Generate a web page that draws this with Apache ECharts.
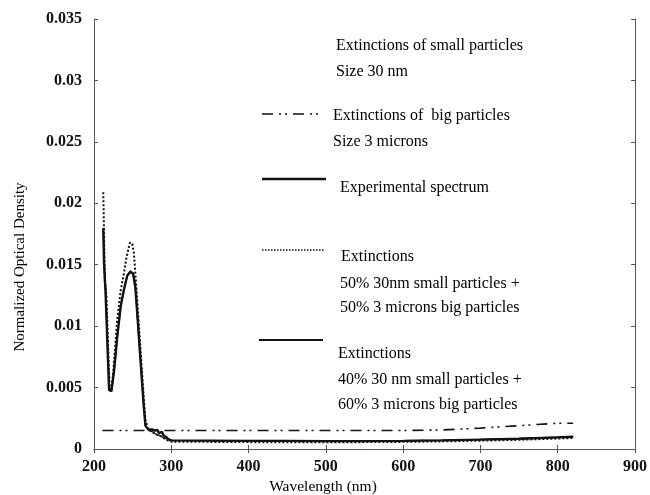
<!DOCTYPE html>
<html>
<head>
<meta charset="utf-8">
<script src="https://cdn.jsdelivr.net/npm/echarts/dist/echarts.min.js"></script>
<style>
  html, body { margin: 0; padding: 0; background: #fff; }
  #chart { width: 650px; height: 495px; }
  /* Warm up the serif faces so canvas text uses them */
  .warm { position: absolute; left: -9999px; top: 0; font-family: "Liberation Serif"; }
</style>
</head>
<body>
<div id="chart"></div>
<span class="warm">Extinctions 0.035</span><span class="warm" style="font-weight:bold">0.035 900</span>
<script>
// Axis ranges and tick values
const xTicks = [200, 300, 400, 500, 600, 700, 800, 900];
const yTicks = [0, 0.005, 0.01, 0.015, 0.02, 0.025, 0.03, 0.035];

// Experimental spectrum
const expWavelength = [212, 213, 215, 217.5, 219.5, 222.5, 226, 230, 234.5, 238.5, 243, 246.5, 250.5, 253.5, 256, 259, 262, 264.5, 266.5, 270, 275, 279, 282, 284, 286, 288, 290, 293, 296, 300, 350, 400, 450, 500, 550, 600, 650, 700, 750, 800, 820];
const expDensity = [0.0180, 0.0151, 0.0127, 0.0083, 0.0048, 0.0047, 0.0064, 0.0091, 0.0116, 0.0129, 0.0141, 0.0144, 0.0143, 0.0132, 0.0110, 0.0083, 0.0056, 0.0034, 0.0019, 0.0016, 0.0016, 0.0015, 0.00155, 0.0013, 0.0012, 0.0014, 0.0011, 0.0010, 0.0008, 0.0007, 0.00068, 0.00066, 0.00066, 0.00064, 0.00064, 0.00066, 0.0007, 0.00076, 0.00084, 0.00095, 0.001];

// Extinctions of big particles, size 3 microns
const bigWavelength = [211, 250, 300, 400, 500, 600, 650, 700, 750, 800, 820];
const bigDensity = [0.0015, 0.0015, 0.0015, 0.0015, 0.0015, 0.0015, 0.00155, 0.0017, 0.0019, 0.0021, 0.0021];

// Extinctions, 50% 30 nm small particles + 50% 3 microns big particles
const mix50Wavelength = [212, 213, 214, 216, 218, 220, 222, 224, 226, 230, 234.5, 238.5, 242, 246.5, 249.5, 251.5, 253.5, 256.5, 260, 263.5, 266.5, 270, 275, 280, 285, 290, 295, 300, 350, 400, 450, 500, 550, 600, 650, 700, 750, 800, 820];
const mix50Density = [0.0209, 0.0177, 0.0137, 0.0125, 0.0088, 0.0052, 0.0047, 0.0056, 0.0072, 0.0105, 0.0129, 0.0142, 0.0156, 0.0168, 0.0167, 0.0160, 0.0143, 0.0116, 0.0083, 0.0050, 0.0024, 0.0016, 0.0014, 0.0012, 0.0011, 0.0009, 0.0007, 0.0006, 0.00058, 0.00056, 0.00055, 0.00055, 0.00056, 0.00058, 0.00062, 0.00068, 0.00075, 0.00085, 0.0009];

// Extinctions, 40% 30 nm small particles + 60% 3 microns big particles
const mix40Wavelength = [212, 213.5, 215.5, 218, 220, 223, 226.5, 230.5, 235, 239, 243.5, 247, 250.5, 253.5, 256, 259, 262, 264.5, 267, 271, 276, 280, 285, 290, 295, 300, 350, 400, 450, 500, 550, 600, 650, 700, 750, 800, 820];
const mix40Density = [0.0178, 0.0148, 0.0125, 0.0075, 0.0049, 0.0048, 0.0066, 0.0093, 0.0118, 0.0131, 0.0142, 0.0145, 0.0143, 0.0131, 0.0109, 0.0082, 0.0055, 0.0033, 0.0018, 0.0015, 0.0014, 0.0012, 0.0011, 0.0009, 0.0008, 0.0007, 0.00066, 0.00064, 0.00063, 0.00063, 0.00064, 0.00067, 0.00071, 0.00078, 0.00086, 0.00096, 0.001];

const pairs = (xs, ys) => xs.map((x, i) => [x, ys[i]]);

const SERIF = '"Liberation Serif", "Times New Roman", serif';
const dashDot = [11, 6, 2, 4, 2, 6];
const dotted = [2, 2];

const frameLine = { show: true, lineStyle: { color: '#555', width: 1 } };
const innerTick = { show: true, inside: true, length: 4, lineStyle: { color: '#555', width: 1 } };

// Legend rows: text lines and line samples
const legendText = [
  { text: 'Extinctions of small particles', x: 336, y: 47 },
  { text: 'Size 30 nm', x: 336, y: 73 },
  { text: 'Extinctions of  big particles', x: 333, y: 117 },
  { text: 'Size 3 microns', x: 333, y: 143 },
  { text: 'Experimental spectrum', x: 340, y: 189 },
  { text: 'Extinctions', x: 341, y: 258 },
  { text: '50% 30nm small particles +', x: 340, y: 285 },
  { text: '50% 3 microns big particles', x: 340, y: 309 },
  { text: 'Extinctions', x: 338, y: 355 },
  { text: '40% 30 nm small particles +', x: 338, y: 381 },
  { text: '60% 3 microns big particles', x: 338, y: 406 }
];
const legendSamples = [
  { x1: 262, x2: 322, y: 114, width: 1.6, dash: dashDot },
  { x1: 262, x2: 326, y: 179, width: 2.6, dash: null },
  { x1: 262, x2: 324, y: 250, width: 1.5, dash: [1.5, 1.5] },
  { x1: 259, x2: 323, y: 340, width: 2, dash: null }
];

function draw() {
  const chart = echarts.init(document.getElementById('chart'), null, { renderer: 'canvas' });

  const graphics = [];
  legendText.forEach(t => graphics.push({
    type: 'text', left: t.x, top: t.y - 9, silent: true,
    style: { text: t.text, font: '16px ' + SERIF, fill: '#000' }
  }));
  legendSamples.forEach(s => graphics.push({
    type: 'line', silent: true,
    shape: { x1: s.x1, y1: s.y, x2: s.x2, y2: s.y },
    style: { stroke: '#111', lineWidth: s.width, lineDash: s.dash }
  }));
  // Axis titles
  graphics.push({
    type: 'text', x: 323, y: 487, silent: true,
    style: { text: 'Wavelength (nm)', font: '15.5px ' + SERIF, fill: '#000', align: 'center', verticalAlign: 'middle' }
  });
  graphics.push({
    type: 'text', x: 20, y: 267, rotation: Math.PI / 2, silent: true,
    style: { text: 'Normalized Optical Density', font: '15px ' + SERIF, fill: '#000', align: 'center', verticalAlign: 'middle' }
  });

  chart.setOption({
    animation: false,
    backgroundColor: '#fff',
    grid: { left: 94, right: 9, top: 19, bottom: 46, containLabel: false },
    xAxis: [
      {
        type: 'value', min: xTicks[0], max: xTicks[xTicks.length - 1], interval: 100,
        axisLine: frameLine, axisTick: innerTick, splitLine: { show: false },
        axisLabel: { margin: 10, fontFamily: SERIF, fontSize: 16, fontWeight: 'bold', color: '#111' }
      },
      {
        type: 'value', position: 'top', min: xTicks[0], max: xTicks[xTicks.length - 1], interval: 100,
        axisLine: frameLine, axisTick: innerTick, splitLine: { show: false }, axisLabel: { show: false }
      }
    ],
    yAxis: [
      {
        type: 'value', min: yTicks[0], max: yTicks[yTicks.length - 1], interval: 0.005,
        axisLine: frameLine, axisTick: innerTick, splitLine: { show: false },
        axisLabel: {
          margin: 12, fontFamily: SERIF, fontSize: 16, fontWeight: 'bold', color: '#111',
          formatter: v => String(+v.toFixed(3))
        }
      },
      {
        type: 'value', position: 'right', min: yTicks[0], max: yTicks[yTicks.length - 1], interval: 0.005,
        axisLine: frameLine, axisTick: innerTick, splitLine: { show: false }, axisLabel: { show: false }
      }
    ],
    series: [
      {
        name: 'Extinctions of big particles', type: 'line', xAxisIndex: 0, yAxisIndex: 0,
        data: pairs(bigWavelength, bigDensity), showSymbol: false, symbol: 'none',
        lineStyle: { color: '#111', width: 1.6, type: dashDot }
      },
      {
        name: 'Extinctions 50/50', type: 'line', xAxisIndex: 0, yAxisIndex: 0,
        data: pairs(mix50Wavelength, mix50Density), showSymbol: false, symbol: 'none',
        lineStyle: { color: '#111', width: 2, type: dotted }
      },
      {
        name: 'Extinctions 40/60', type: 'line', xAxisIndex: 0, yAxisIndex: 0,
        data: pairs(mix40Wavelength, mix40Density), showSymbol: false, symbol: 'none',
        lineStyle: { color: '#222', width: 1.4 }
      },
      {
        name: 'Experimental spectrum', type: 'line', xAxisIndex: 0, yAxisIndex: 0,
        data: pairs(expWavelength, expDensity), showSymbol: false, symbol: 'none',
        lineStyle: { color: '#111', width: 2.4 }
      }
    ],
    graphic: graphics
  });
}

// Draw once the serif faces are ready, so canvas text is measured with them
const faces = [
  '16px "Liberation Serif"',
  'bold 16px "Liberation Serif"'
];
if (document.fonts && document.fonts.load) {
  Promise.all(faces.map(f => document.fonts.load(f))).then(draw, draw);
} else {
  draw();
}
</script>
</body>
</html>
